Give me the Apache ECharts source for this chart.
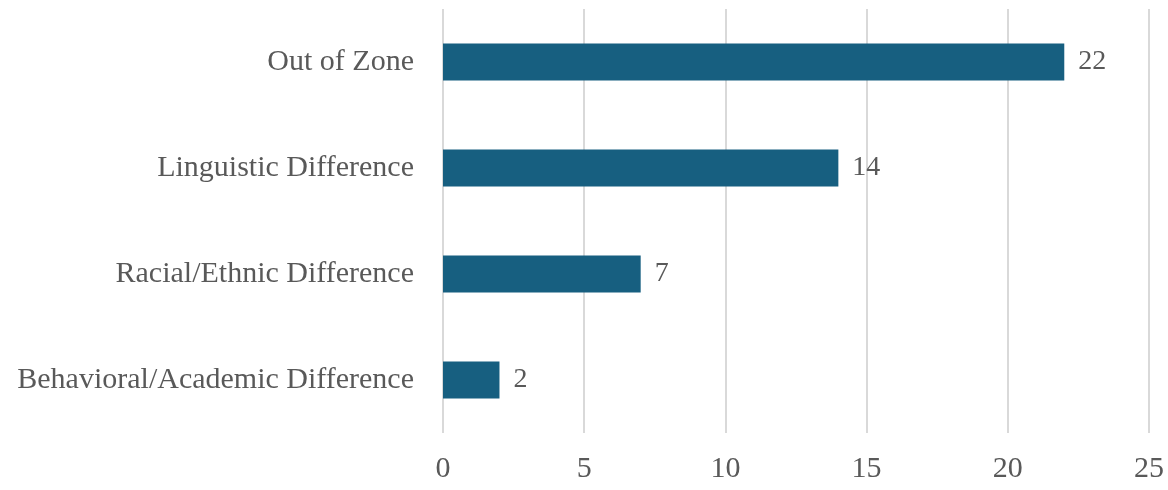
<!DOCTYPE html>
<html>
<head>
<meta charset="utf-8">
<script src="https://cdn.jsdelivr.net/npm/echarts@6/dist/echarts.min.js"></script>
<style>
  html, body { margin: 0; padding: 0; background: #ffffff; }
  #chart { width: 1168px; height: 490px; }
</style>
</head>
<body>
<div id="chart"></div>
<script>
// Reasons, listed bottom to top as they appear on the category axis
const categories = [
  'Behavioral/Academic Difference',
  'Racial/Ethnic Difference',
  'Linguistic Difference',
  'Out of Zone'
];
const counts = [2, 7, 14, 22];
const xTicks = { min: 0, max: 25, interval: 5 };

const fontFamily = '"Liberation Serif", "DejaVu Serif", serif';
const textColor = '#595959';

const chart = echarts.init(document.getElementById('chart'), null, { renderer: 'canvas' });
chart.setOption({
  animation: false,
  grid: { left: 443, right: 19, top: 9, bottom: 57, containLabel: false },
  xAxis: {
    type: 'value',
    min: xTicks.min,
    max: xTicks.max,
    interval: xTicks.interval,
    axisLine: { show: false },
    axisTick: { show: false },
    splitLine: { show: true, lineStyle: { color: '#d9d9d9', width: 2 } },
    axisLabel: { color: textColor, fontFamily, fontSize: 30, margin: 21 }
  },
  yAxis: {
    type: 'category',
    data: categories,
    axisLine: { show: false },
    axisTick: { show: false },
    axisLabel: { color: textColor, fontFamily, fontSize: 30, margin: 29 }
  },
  series: [{
    type: 'bar',
    data: counts,
    barWidth: '35%',
    itemStyle: { color: '#175f80' },
    label: {
      show: true,
      position: 'right',
      distance: 14,
      color: textColor,
      fontFamily,
      fontSize: 28
    }
  }]
});
</script>
</body>
</html>
